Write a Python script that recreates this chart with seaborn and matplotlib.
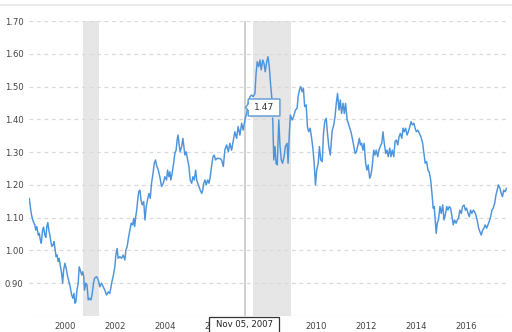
import matplotlib
matplotlib.use("Agg")
import matplotlib.pyplot as plt
import seaborn as sns
import pandas as pd
from matplotlib.ticker import FixedLocator, FixedFormatter
from matplotlib.patches import Polygon, Rectangle
from matplotlib.lines import Line2D

# ---------------- data ----------------
years = [
    1998.58, 1998.63, 1998.67, 1998.74, 1998.80, 1998.84, 1998.88, 1998.94, 1998.98, 1999.02,
    1999.06, 1999.11, 1999.15, 1999.20, 1999.24, 1999.28, 1999.32, 1999.36, 1999.40, 1999.44,
    1999.48, 1999.53, 1999.57, 1999.61, 1999.65, 1999.69, 1999.73, 1999.77, 1999.81, 1999.87,
    1999.91, 1999.95, 2000.00, 2000.05, 2000.11, 2000.16, 2000.21, 2000.27, 2000.32, 2000.36,
    2000.40, 2000.44, 2000.48, 2000.53, 2000.57, 2000.61, 2000.67, 2000.71, 2000.75, 2000.78,
    2000.84, 2000.88, 2000.93, 2000.98, 2001.04, 2001.09, 2001.14, 2001.18, 2001.26, 2001.33,
    2001.39, 2001.46, 2001.53, 2001.59, 2001.66, 2001.73, 2001.79, 2001.86, 2001.92, 2001.99,
    2002.03, 2002.08, 2002.12, 2002.19, 2002.26, 2002.32, 2002.39, 2002.43, 2002.48, 2002.54,
    2002.59, 2002.64, 2002.70, 2002.74, 2002.78, 2002.82, 2002.86, 2002.90, 2002.94, 2002.99,
    2003.03, 2003.08, 2003.14, 2003.19, 2003.24, 2003.29, 2003.35, 2003.40, 2003.45, 2003.51,
    2003.56, 2003.61, 2003.65, 2003.72, 2003.78, 2003.85, 2003.92, 2003.98, 2004.05, 2004.09,
    2004.14, 2004.18, 2004.22, 2004.27, 2004.33, 2004.38, 2004.43, 2004.47, 2004.51, 2004.55,
    2004.59, 2004.65, 2004.70, 2004.74, 2004.78, 2004.83, 2004.89, 2004.94, 2004.99, 2005.05,
    2005.10, 2005.15, 2005.21, 2005.25, 2005.29, 2005.34, 2005.39, 2005.45, 2005.49, 2005.53,
    2005.58, 2005.63, 2005.69, 2005.74, 2005.79, 2005.84, 2005.90, 2005.95, 2006.00, 2006.06,
    2006.11, 2006.18, 2006.24, 2006.31, 2006.37, 2006.44, 2006.51, 2006.57, 2006.64, 2006.71,
    2006.77, 2006.84, 2006.90, 2006.97, 2007.04, 2007.10, 2007.17, 2007.24, 2007.30, 2007.37,
    2007.44, 2007.50, 2007.57, 2007.61, 2007.66, 2007.72, 2007.77, 2007.82, 2007.88, 2007.93,
    2007.98, 2008.04, 2008.09, 2008.14, 2008.20, 2008.25, 2008.28, 2008.32, 2008.37, 2008.41,
    2008.46, 2008.52, 2008.57, 2008.62, 2008.67, 2008.73, 2008.78, 2008.85, 2008.89, 2008.94,
    2008.98, 2009.05, 2009.11, 2009.18, 2009.25, 2009.29, 2009.34, 2009.39, 2009.45, 2009.50,
    2009.55, 2009.61, 2009.66, 2009.71, 2009.77, 2009.82, 2009.87, 2009.93, 2009.98, 2010.03,
    2010.09, 2010.14, 2010.19, 2010.25, 2010.30, 2010.35, 2010.41, 2010.46, 2010.51, 2010.57,
    2010.62, 2010.65, 2010.71, 2010.76, 2010.81, 2010.86, 2010.92, 2010.97, 2011.02, 2011.08,
    2011.13, 2011.18, 2011.24, 2011.32, 2011.40, 2011.48, 2011.56, 2011.61, 2011.66, 2011.73,
    2011.77, 2011.82, 2011.87, 2011.92, 2011.98, 2012.03, 2012.08, 2012.14, 2012.19, 2012.24,
    2012.30, 2012.35, 2012.40, 2012.46, 2012.51, 2012.56, 2012.62, 2012.67, 2012.72, 2012.78,
    2012.83, 2012.88, 2012.94, 2012.99, 2013.04, 2013.10, 2013.15, 2013.20, 2013.26, 2013.31,
    2013.36, 2013.42, 2013.47, 2013.52, 2013.57, 2013.63, 2013.68, 2013.74, 2013.79, 2013.84,
    2013.90, 2013.95, 2014.00, 2014.06, 2014.12, 2014.18, 2014.25, 2014.30, 2014.35, 2014.41,
    2014.46, 2014.51, 2014.57, 2014.62, 2014.67, 2014.71, 2014.75, 2014.79, 2014.83, 2014.88,
    2014.94, 2014.99, 2015.05, 2015.10, 2015.15, 2015.21, 2015.26, 2015.31, 2015.36, 2015.42,
    2015.47, 2015.52, 2015.58, 2015.63, 2015.68, 2015.73, 2015.79, 2015.84, 2015.90, 2015.95,
    2016.00, 2016.06, 2016.11, 2016.16, 2016.21, 2016.27, 2016.32, 2016.37, 2016.42, 2016.48,
    2016.53, 2016.58, 2016.64, 2016.69, 2016.74, 2016.80, 2016.85, 2016.90, 2016.96, 2017.01,
    2017.06, 2017.12, 2017.17, 2017.22, 2017.27, 2017.33, 2017.38, 2017.43, 2017.48, 2017.54,
    2017.59,
]
rates = [
    1.159, 1.129, 1.108, 1.088, 1.078, 1.062, 1.073, 1.047, 1.052, 1.032,
    1.022, 1.062, 1.071, 1.047, 1.040, 1.073, 1.085, 1.062, 1.047, 1.027,
    1.012, 1.017, 1.027, 1.002, 0.981, 0.986, 0.966, 0.976, 0.956, 0.930,
    0.900, 0.940, 0.961, 0.946, 0.920, 0.905, 0.889, 0.864, 0.854, 0.869,
    0.839, 0.844, 0.879, 0.900, 0.950, 0.940, 0.925, 0.935, 0.920, 0.879,
    0.900, 0.895, 0.849, 0.854, 0.849, 0.869, 0.900, 0.915, 0.920, 0.910,
    0.889, 0.900, 0.889, 0.879, 0.864, 0.874, 0.869, 0.900, 0.920, 0.950,
    0.986, 1.006, 0.976, 0.981, 0.976, 0.986, 0.971, 1.002, 1.012, 1.042,
    1.062, 1.083, 1.078, 1.098, 1.073, 1.103, 1.123, 1.154, 1.179, 1.184,
    1.154, 1.139, 1.149, 1.093, 1.134, 1.154, 1.174, 1.159, 1.205, 1.235,
    1.266, 1.276, 1.260, 1.245, 1.225, 1.195, 1.205, 1.225, 1.215, 1.245,
    1.225, 1.240, 1.215, 1.235, 1.266, 1.296, 1.306, 1.337, 1.352, 1.322,
    1.301, 1.317, 1.342, 1.317, 1.291, 1.301, 1.276, 1.256, 1.215, 1.205,
    1.225, 1.215, 1.245, 1.215, 1.205, 1.195, 1.184, 1.174, 1.184, 1.205,
    1.215, 1.200, 1.215, 1.205, 1.225, 1.256, 1.286, 1.291, 1.276, 1.281,
    1.281, 1.280, 1.276, 1.256, 1.306, 1.322, 1.301, 1.327, 1.306, 1.337,
    1.362, 1.342, 1.378, 1.352, 1.388, 1.367, 1.398, 1.418, 1.449, 1.469,
    1.474, 1.469, 1.479, 1.535, 1.576, 1.561, 1.581, 1.551, 1.581, 1.571,
    1.545, 1.576, 1.591, 1.561, 1.500, 1.459, 1.398, 1.276, 1.317, 1.266,
    1.261, 1.398, 1.317, 1.276, 1.266, 1.286, 1.317, 1.327, 1.266, 1.357,
    1.413, 1.398, 1.408, 1.428, 1.434, 1.469, 1.489, 1.500, 1.484, 1.495,
    1.439, 1.444, 1.378, 1.362, 1.373, 1.347, 1.317, 1.266, 1.200, 1.245,
    1.266, 1.317, 1.276, 1.271, 1.357, 1.393, 1.403, 1.357, 1.317, 1.291,
    1.337, 1.367, 1.383, 1.408, 1.449, 1.479, 1.428, 1.459, 1.418, 1.449,
    1.418, 1.449, 1.400, 1.380, 1.360, 1.330, 1.296, 1.300, 1.317, 1.342,
    1.322, 1.327, 1.306, 1.327, 1.266, 1.245, 1.261, 1.220, 1.230, 1.256,
    1.306, 1.291, 1.306, 1.286, 1.306, 1.317, 1.327, 1.362, 1.327, 1.296,
    1.306, 1.286, 1.312, 1.286, 1.306, 1.286, 1.332, 1.337, 1.322, 1.347,
    1.357, 1.342, 1.373, 1.362, 1.373, 1.352, 1.362, 1.378, 1.393, 1.383,
    1.388, 1.373, 1.362, 1.367, 1.357, 1.347, 1.327, 1.296, 1.266, 1.271,
    1.245, 1.240, 1.215, 1.174, 1.129, 1.134, 1.093, 1.052, 1.083, 1.093,
    1.134, 1.113, 1.139, 1.093, 1.108, 1.134, 1.123, 1.134, 1.129, 1.103,
    1.078, 1.093, 1.083, 1.093, 1.098, 1.123, 1.113, 1.134, 1.139, 1.123,
    1.129, 1.113, 1.103, 1.123, 1.113, 1.123, 1.118, 1.108, 1.093, 1.068,
    1.057, 1.047, 1.062, 1.068, 1.078, 1.068, 1.078, 1.088, 1.103, 1.123,
    1.129, 1.144, 1.169, 1.184, 1.200, 1.190, 1.174, 1.164, 1.184, 1.179,
    1.190,
]
recession_starts = [2000.72, 2007.50]
recession_ends = [2001.37, 2008.99]
y_ticks = [0.80, 0.90, 1.00, 1.10, 1.20, 1.30, 1.40, 1.50, 1.60, 1.70]
y_tick_labels = ["", "0.90", "1.00", "1.10", "1.20", "1.30", "1.40", "1.50", "1.60", "1.70"]
x_ticks = [2000, 2002, 2004, 2006, 2008, 2010, 2012, 2014, 2016]
x_tick_labels = ["2000", "2002", "2004", "2006", "2008", "2010", "2012", "2014", "2016"]
tooltip_year = 2007.17
tooltip_value = 1.47
tooltip_text = "1.47"
tooltip_date = "Nov 05, 2007"

# ---------------- figure ----------------
sns.set_style("white")
plt.rcParams["font.family"] = ["DejaVu Sans"]

W, H, DPI = 512, 332, 100
fig = plt.figure(figsize=(W / DPI, H / DPI), dpi=DPI)
ax = fig.add_axes([29 / W, 16 / H, 478 / W, 295 / H])

df = pd.DataFrame({"year": years, "rate": rates})

for s, e in zip(recession_starts, recession_ends):
    ax.axvspan(s, e, color="#e6e6e6", lw=0, zorder=0)

ax.set_ylim(0.80, 1.70)
ax.set_xlim(1998.57, 2017.61)
ax.yaxis.set_major_locator(FixedLocator(y_ticks))
ax.yaxis.set_major_formatter(FixedFormatter(y_tick_labels))
ax.xaxis.set_major_locator(FixedLocator(x_ticks))
ax.xaxis.set_major_formatter(FixedFormatter(x_tick_labels))
ax.grid(axis="y", color="#d9d9d9", linestyle=(0, (3, 3)), linewidth=0.9)
ax.grid(axis="x", visible=False)
ax.set_axisbelow(True)
for sp in ax.spines.values():
    sp.set_visible(False)
ax.tick_params(axis="both", length=0, labelsize=6.1, labelcolor="#444444")
ax.tick_params(axis="y", pad=3.8)
ax.tick_params(axis="x", pad=4.2)

ax.axvline(tooltip_year, color="#cccccc", lw=1.3, zorder=1)

sns.lineplot(data=df, x="year", y="rate", ax=ax, color="#4d94db",
             linewidth=1.05, estimator=None, sort=False, zorder=3)
ax.set_xlabel("")
ax.set_ylabel("")

# top separator line
fig.add_artist(Line2D([0, 1], [1 - 4.5 / H, 1 - 4.5 / H], transform=fig.transFigure,
                      color="#e8e8e8", lw=1.2))

fig.canvas.draw()
# value tooltip anchored at the highlighted point
axp, ayp = ax.transData.transform((tooltip_year, tooltip_value))
rel = [(3.3, 2.6), (35, 2.6), (35, 19.6), (3.3, 19.6), (3.3, 14.1), (0.6, 10.9), (3.3, 7.6)]
shadow = Polygon([(axp + dx + 1.5, ayp - dy - 1.5) for dx, dy in rel], closed=True,
                 transform=None, fc="#dddddd", ec="none", zorder=8)
box = Polygon([(axp + dx, ayp - dy) for dx, dy in rel], closed=True,
              transform=None, fc="white", ec="#5b9bd5", lw=1.0, zorder=9)
fig.add_artist(shadow)
fig.add_artist(box)
fig.text(axp + 19.2, ayp - 11.2, tooltip_text, transform=None, ha="center", va="center",
         fontsize=6.6, color="#333333", zorder=10)

# date label under the crosshair
bx0 = ax.transAxes.transform((0, 0))[1]
rect = Rectangle((axp - 35.5, bx0 - 16.5), 70, 15.5, transform=None,
                 fc="white", ec="#333333", lw=0.9, zorder=9)
fig.add_artist(rect)
fig.text(axp - 0.5, bx0 - 8.5, tooltip_date, transform=None, ha="center", va="center",
         fontsize=6.1, color="#222222", zorder=10)

fig.savefig("out.png", dpi=DPI)
